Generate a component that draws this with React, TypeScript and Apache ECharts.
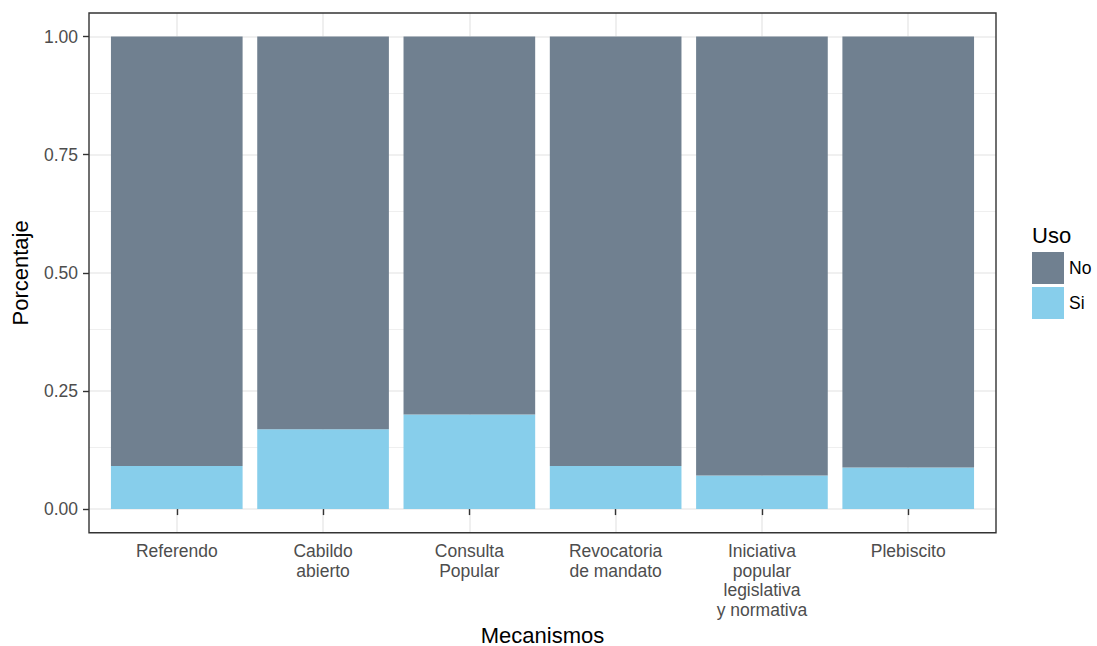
import React, { useEffect, useRef } from "react";
import * as echarts from "echarts";

const categories = [
  "Referendo",
  "Cabildo\nabierto",
  "Consulta\nPopular",
  "Revocatoria\nde mandato",
  "Iniciativa\npopular\nlegislativa\ny normativa",
  "Plebiscito",
];
const siValues = [0.091, 0.169, 0.2, 0.091, 0.071, 0.088];
const noValues = [0.909, 0.831, 0.8, 0.909, 0.929, 0.912];
const yTicks = [0, 0.25, 0.5, 0.75, 1];
const yMinorTicks = [0.125, 0.375, 0.625, 0.875];
const legendLabels = ["No", "Si"];
const xTitle = "Mecanismos";
const yTitle = "Porcentaje";
const legendTitle = "Uso";

const FONT = "'Liberation Sans', Arial, Helvetica, sans-serif";
const W = 1097;
const H = 646;
const PANEL = { left: 89, right: 996, top: 13, bottom: 532.7 };

export default function App() {
  const ref = useRef<HTMLDivElement>(null);
  useEffect(() => {
    if (!ref.current) return;
    const chart = echarts.init(ref.current, undefined, { renderer: "svg" });
    const xPos = categories.map((_, i) => i + 1);
    const gridColor = "#EBEBEB";
    const option: any = {
      animation: false,
      backgroundColor: "#ffffff",
      textStyle: { fontFamily: FONT },
      grid: {
        left: PANEL.left,
        right: W - PANEL.right,
        top: PANEL.top,
        bottom: H - PANEL.bottom,
        containLabel: false,
      },
      xAxis: {
        type: "value",
        min: 0.4,
        max: 6.6,
        axisLine: { show: false },
        splitLine: { show: false },
        axisTick: {
          show: true,
          customValues: xPos,
          length: 6,
          lineStyle: { color: "#333333", width: 1.4 },
        },
        axisLabel: {
          customValues: xPos,
          formatter: (v: number) => categories[Math.round(v) - 1] ?? "",
          color: "#4D4D4D",
          fontSize: 17.5,
          lineHeight: 19.5,
          margin: 9,
          fontFamily: FONT,
        },
      },
      yAxis: {
        type: "value",
        min: -0.05,
        max: 1.05,
        axisLine: { show: false },
        splitLine: { show: false },
        axisTick: {
          show: true,
          customValues: yTicks,
          length: 6,
          lineStyle: { color: "#333333", width: 1.4 },
        },
        axisLabel: {
          customValues: yTicks,
          formatter: (v: number) => v.toFixed(2),
          color: "#4D4D4D",
          fontSize: 17.5,
          margin: 11,
          fontFamily: FONT,
        },
      },
      legend: {
        data: legendLabels,
        orient: "vertical",
        left: 1032,
        top: 252,
        padding: 0,
        itemWidth: 32,
        itemHeight: 32,
        itemGap: 3,
        icon: "rect",
        selectedMode: false,
        textStyle: { fontSize: 17.5, color: "#000000", fontFamily: FONT },
      },
      series: [
        {
          type: "line",
          data: [],
          silent: true,
          z: 0,
          markLine: {
            silent: true,
            z: 0,
            symbol: ["none", "none"],
            label: { show: false },
            emphasis: { disabled: true },
            lineStyle: { color: gridColor, type: "solid", width: 1.6 },
            data: [
              ...yMinorTicks.map((v) => ({ yAxis: v, lineStyle: { color: gridColor, type: "solid", width: 0.8 } })),
              ...yTicks.map((v) => ({ yAxis: v, lineStyle: { color: gridColor, type: "solid", width: 1.6 } })),
              ...xPos.map((v) => ({ xAxis: v, lineStyle: { color: gridColor, type: "solid", width: 1.6 } })),
            ],
          },
        },
        {
          name: "Si",
          type: "bar",
          stack: "uso",
          barWidth: "90%",
          z: 2,
          itemStyle: { color: "#87CEEB" },
          encode: { x: 1, y: 0 },
          data: xPos.map((x, i) => [siValues[i], x]),
        },
        {
          name: "No",
          type: "bar",
          stack: "uso",
          barWidth: "90%",
          z: 2,
          itemStyle: { color: "#708090" },
          encode: { x: 1, y: 0 },
          data: xPos.map((x, i) => [noValues[i], x]),
        },
      ],
      graphic: [
        {
          type: "rect",
          z: 100,
          silent: true,
          shape: {
            x: PANEL.left,
            y: PANEL.top,
            width: PANEL.right - PANEL.left,
            height: PANEL.bottom - PANEL.top,
          },
          style: { fill: "none", stroke: "#333333", lineWidth: 1.4 },
        },
        {
          type: "text",
          x: (PANEL.left + PANEL.right) / 2,
          y: 635,
          style: {
            text: xTitle,
            fontSize: 22,
            fontFamily: FONT,
            fill: "#000000",
            align: "center",
            verticalAlign: "middle",
          },
        },
        {
          type: "text",
          x: 20,
          y: (PANEL.top + PANEL.bottom) / 2,
          rotation: Math.PI / 2,
          style: {
            text: yTitle,
            fontSize: 22,
            fontFamily: FONT,
            fill: "#000000",
            align: "center",
            verticalAlign: "middle",
          },
        },
        {
          type: "text",
          x: 1032,
          y: 235,
          style: {
            text: legendTitle,
            fontSize: 22,
            fontFamily: FONT,
            fill: "#000000",
            align: "left",
            verticalAlign: "middle",
          },
        },
      ],
    };
    chart.setOption(option);
    return () => chart.dispose();
  }, []);
  return (
    <div
      ref={ref}
      style={{ position: "absolute", left: 0, top: 0, width: W, height: H }}
    />
  );
}
